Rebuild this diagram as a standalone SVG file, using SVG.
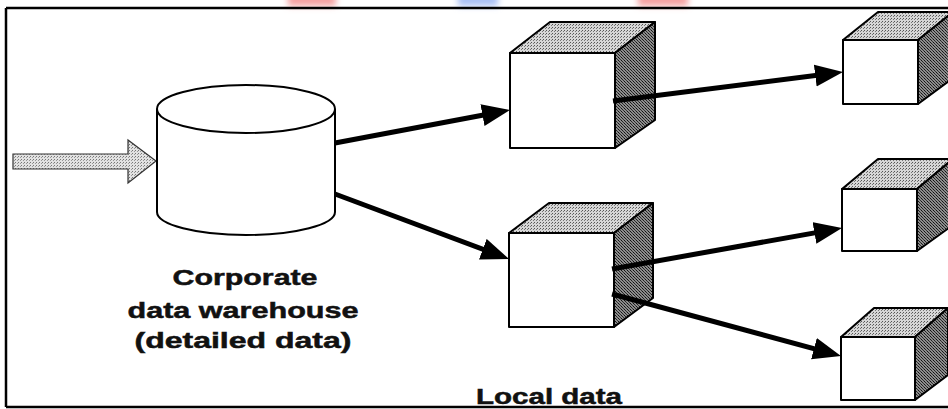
<svg xmlns="http://www.w3.org/2000/svg" width="948" height="409" viewBox="0 0 948 409">
  <style>
    .edge { stroke: #000; stroke-width: 2; stroke-linejoin: round; }
    .front { fill: #fff; }
    .top { fill: url(#stipLight); }
    .side { fill: url(#stipDark); }
    .conn { stroke: #000; stroke-width: 5; fill: none; marker-end: url(#ah); }
    .lbl { font-family: "Liberation Sans", Arial, sans-serif; font-weight: bold; font-size: 22px; fill: #111; stroke: #111; stroke-width: 0.5; text-anchor: middle; }
    .frame { stroke: #000; stroke-width: 2.5; fill: none; }
  </style>
  <defs>
    <pattern id="stipLight" width="3" height="3" patternUnits="userSpaceOnUse">
      <rect width="3" height="3" fill="#d6d6d6"/>
      <rect x="0" y="0" width="1" height="1" fill="#555"/>
      <rect x="2" y="1" width="1" height="1" fill="#777"/>
    </pattern>
    <pattern id="stipDark" width="3" height="3" patternUnits="userSpaceOnUse">
      <rect width="3" height="3" fill="#8c8c8c"/>
      <rect x="0" y="0" width="1" height="1" fill="#111"/>
      <rect x="1" y="1" width="1" height="1" fill="#222"/>
      <rect x="2" y="2" width="1" height="1" fill="#333"/>
    </pattern>
    <pattern id="stipInput" width="3" height="3" patternUnits="userSpaceOnUse">
      <rect width="3" height="3" fill="#e2e2e2"/>
      <rect x="0" y="0" width="1" height="1" fill="#777"/>
      <rect x="2" y="1" width="1" height="1" fill="#999"/>
    </pattern>
    <marker id="ah" markerUnits="userSpaceOnUse" markerWidth="30" markerHeight="24" refX="16" refY="11" orient="auto">
      <path d="M0,0 L28,11 L0,22 Z" fill="#000"/>
    </marker>
    <filter id="blur" x="-50%" y="-200%" width="200%" height="500%">
      <feGaussianBlur stdDeviation="3"/>
    </filter>
  </defs>

  <rect width="948" height="409" fill="#fff"/>

  <g id="watermark" filter="url(#blur)">
    <rect x="288" y="-6" width="48" height="12" fill="#f4a0a0"/>
    <rect x="458" y="-6" width="40" height="12" fill="#a8c0f4"/>
    <rect x="638" y="-6" width="50" height="12" fill="#f4a0a0"/>
  </g>

  <g id="frame">
    <line class="frame" x1="6" y1="8" x2="948" y2="8"/>
    <line class="frame" x1="6" y1="8" x2="6" y2="407"/>
    <line class="frame" x1="6" y1="407" x2="948" y2="407"/>
  </g>

  <g id="input-arrow">
    <polygon points="13,154 128,154 128,140 156,161 128,183 128,169 13,169" fill="url(#stipInput)" stroke="#333" stroke-width="1.2"/>
  </g>

  <g id="warehouse">
    <path class="edge" d="M157,109 L157,212 A89,23 0 0 0 335,212 L335,109" fill="#fff"/>
    <ellipse class="edge" cx="246" cy="109" rx="89" ry="24" fill="#fff"/>
    <text class="lbl" x="245" y="285" textLength="145" lengthAdjust="spacingAndGlyphs">Corporate</text>
    <text class="lbl" x="243" y="318" textLength="231" lengthAdjust="spacingAndGlyphs">data warehouse</text>
    <text class="lbl" x="243" y="348" textLength="217" lengthAdjust="spacingAndGlyphs">(detailed data)</text>
  </g>

  <g id="cube-1">
    <polygon class="edge top" points="510,53 550,22 655,22 615,53"/>
    <polygon class="edge side" points="615,53 655,22 655,120 615,148"/>
    <rect class="edge front" x="510" y="53" width="105" height="95"/>
  </g>

  <g id="cube-2">
    <polygon class="edge top" points="509,233 549,203 653,203 614,233"/>
    <polygon class="edge side" points="614,233 653,203 653,298 614,327"/>
    <rect class="edge front" x="509" y="233" width="105" height="94"/>
  </g>

  <g id="cube-3">
    <polygon class="edge top" points="843,40 878,12 953,12 918,40"/>
    <polygon class="edge side" points="918,40 953,12 953,78 918,104"/>
    <rect class="edge front" x="843" y="40" width="75" height="64"/>
  </g>

  <g id="cube-4">
    <polygon class="edge top" points="842,189 878,159 953,159 917,189"/>
    <polygon class="edge side" points="917,189 953,159 953,225 917,251"/>
    <rect class="edge front" x="842" y="189" width="75" height="62"/>
  </g>

  <g id="cube-5">
    <polygon class="edge top" points="841,337 874,308 948,308 915,337"/>
    <polygon class="edge side" points="915,337 948,308 948,375 915,400"/>
    <rect class="edge front" x="841" y="337" width="74" height="63"/>
  </g>

  <g id="local-data-label">
    <text class="lbl" x="549" y="404" font-size="23" textLength="146" lengthAdjust="spacingAndGlyphs">Local data</text>
  </g>

  <g id="connectors">
    <line class="conn" x1="335" y1="143" x2="498.2" y2="112.2"/>
    <line class="conn" x1="335" y1="194" x2="497.8" y2="254.8"/>
    <line class="conn" x1="613" y1="101" x2="831.1" y2="73.5"/>
    <line class="conn" x1="612" y1="269" x2="830.2" y2="230.1"/>
    <line class="conn" x1="612" y1="294" x2="829.4" y2="352.9"/>
  </g>
</svg>
